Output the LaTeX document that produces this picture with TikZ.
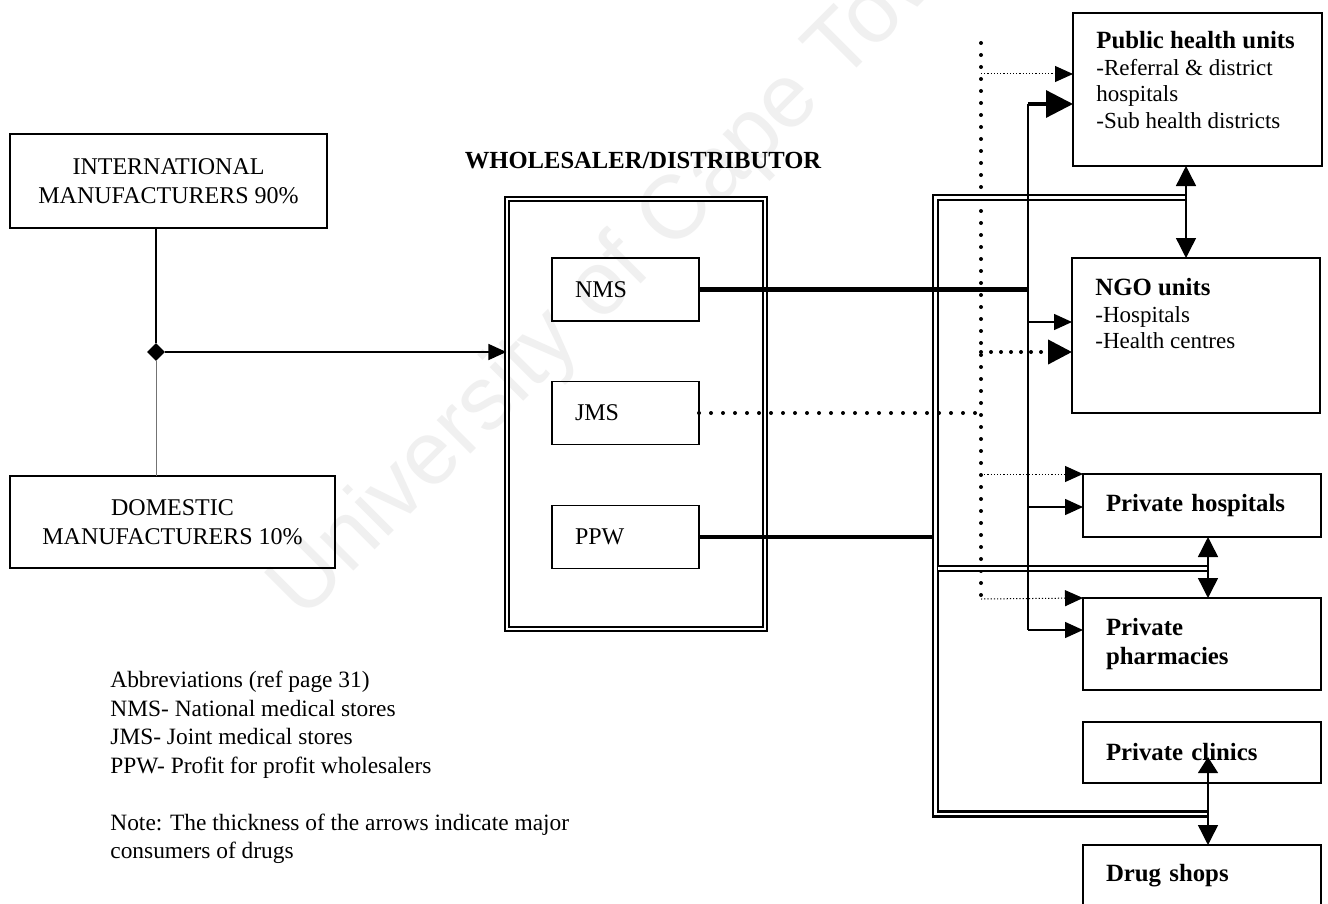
\documentclass[tikz,border=0pt]{standalone}
\usepackage{fontspec}
\setmainfont{Liberation Serif}
\newfontfamily\wmfont{Liberation Sans}
\usetikzlibrary{arrows.meta,shapes.geometric}
\begin{document}
\begin{tikzpicture}[x=0.5pt,y=-0.5pt,
  box/.style={draw, line width=0.7pt, inner sep=0pt, outer sep=0pt},
  capfont/.style={font=\fontsize{12}{14.5}\selectfont},
  smallbox/.style={box, minimum width=73.5pt, minimum height=31.5pt, text width=50.5pt, inner xsep=11.5pt, align=left, font=\fontsize{12}{14}\selectfont},
  rbox/.style={box, minimum width=119pt, text width=96pt, inner xsep=11.5pt, align=left, font=\bfseries\fontsize{12.4}{14.5}\selectfont},
  arr/.style={line width=0.7pt, -{Triangle[length=9pt,width=8pt]}},
  bigarr/.style={line width=1.6pt, -{Triangle[length=13.5pt,width=13.5pt]}},
  darr/.style={line width=0.7pt, {Triangle[length=10pt,width=10pt]}-{Triangle[length=10pt,width=10pt]}},
  bigdots/.style={line width=2pt, line cap=round, dash pattern=on 0pt off 6pt},
  finedots/.style={line width=0.5pt, dash pattern=on 0.6pt off 1pt},
  heavy/.style={line width=2.2pt},
  rail/.style={double, line width=1.2pt, double distance=1.2pt},
]
\useasboundingbox (0,0) rectangle (1328,904);
\fill[white] (0,0) rectangle (1328,904);
\begin{scope}
\clip (0,0) rectangle (1328,904);

% watermark
\node[rotate=45, font=\wmfont\fontsize{45}{45}\selectfont, text=gray!12, inner sep=0] (wm) at (630,262) {University of Cape Town};

% manufacturers
\node[box, capfont, minimum width=158.5pt, minimum height=47pt, align=center] (intl) at (168.5,181) {INTERNATIONAL\\MANUFACTURERS 90\%};
\node[box, capfont, minimum width=162.5pt, minimum height=46pt, align=center] (dom) at (172.5,522) {DOMESTIC\\MANUFACTURERS 10\%};
\node[diamond, fill=black, inner sep=0pt, minimum width=9pt, minimum height=9pt] (dia) at (156,352) {};

% wholesaler
\node[draw, double, line width=0.6pt, double distance=1.4pt, minimum width=129pt, minimum height=215pt, inner sep=0pt] (whole) at (636,414) {};
\node[font=\bfseries\fontsize{12.3}{14}\selectfont] (wtitle) at (643,161) {WHOLESALER/DISTRIBUTOR};
\node[smallbox] (nms) at (625.5,289.5) {NMS};
\node[smallbox] (jms) at (625.5,413) {JMS};
\node[smallbox] (ppw) at (625.5,537) {PPW};

% right boxes
\node[box, minimum width=124.5pt, minimum height=76.5pt] (pub) at (1197.5,89.5) {};
\node[anchor=north west, align=left, inner sep=0pt, font=\fontsize{11.5}{13.25}\selectfont] (pubt) at (1096,31) {{\bfseries\fontsize{12.4}{13.25}\selectfont Public health units}\\-Referral \& district\\hospitals\\-Sub health districts};
\node[box, minimum width=124pt, minimum height=77.5pt] (ngo) at (1196,335.5) {};
\node[anchor=north west, align=left, inner sep=0pt, font=\fontsize{11.5}{13.25}\selectfont] (ngot) at (1095,278) {{\bfseries\fontsize{12.4}{13.25}\selectfont NGO units}\\-Hospitals\\-Health centres};
\node[rbox, minimum height=31.5pt] (phosp) at (1202,505.5) {Private hospitals};
\node[rbox, minimum height=46pt] (pharm) at (1202,644) {Private\\pharmacies};
\node[rbox, minimum height=30.5pt] (clin) at (1202,752.5) {Private clinics};
\node[rbox, minimum height=30.5pt] (drug) at (1202,875.5) {Drug shops};

% abbreviations
\node[anchor=north west, align=left, inner sep=0pt, font=\fontsize{11.7}{14.25}\selectfont] (abbr) at (110,671) {Abbreviations (ref page 31)\\NMS- National medical stores\\JMS- Joint medical stores\\PPW- Profit for profit wholesalers\\[14.25pt]Note: The thickness of the arrows indicate major\\consumers of drugs};

% helper coordinates
\coordinate (xv) at (1028,0);
\coordinate (xd) at (981,0);
\coordinate (xr) at (935.5,0);
\coordinate (c1) at (1186,0);
\coordinate (c2) at (1208,0);
\coordinate (pa) at (1028,104);
\coordinate (pn) at (1028,322);
\coordinate (ph) at (1028,507);
\coordinate (pb) at (1028,630);
\coordinate (dt) at (981,43);
\coordinate (db) at (981,598);
\coordinate (dp) at (981,74);
\coordinate (dn) at (981,352);
\coordinate (dh) at (981,474);
\coordinate (dr) at (981,599);
\coordinate (clintip) at (1208,757);
\coordinate (rtop) at (1186,197.5);
\coordinate (rc1) at (935.5,197.5);
\coordinate (rc2) at (935.5,814);
\coordinate (rbot) at (1208,814);
\coordinate (rmid1) at (938,568.5);
\coordinate (rmid2) at (1208,568.5);

% manufacturers to wholesaler
\draw[line width=0.6pt] (intl.south -| dia) -- (dia);
\draw[line width=0.5pt, black!55] (dia) -- (dom.north -| dia);
\draw[arr] (dia) -- (dia -| whole.west);

% dotted network
\draw[bigdots] (dt) -- (db);
\draw[bigdots] (jms.east) -- (jms.east -| xd);
\draw[line width=2pt, line cap=round, dash pattern=on 0pt off 5pt, -{Triangle[length=12pt,width=12pt]}] (dn) -- (dn -| ngo.west);
\draw[finedots, -{Triangle[length=9pt,width=8pt]}] (dp) -- (dp -| pub.west);
\draw[finedots, -{Triangle[length=9pt,width=8pt]}] (dh) -- (phosp.north west);
\draw[finedots, -{Triangle[length=9pt,width=8pt]}] (dr) -- (pharm.north west);

% PPW and rails
\draw[heavy] (ppw.east) -- (ppw.east -| xr);
\draw[rail] (rtop) -- (rc1) -- (rc2) -- (rbot);
\draw[rail] (rmid1) -- (rmid2);

% NMS and thin vertical
\draw[line width=0.8pt] (nms.east -| xv) -- (pa);
\draw[bigarr] (pa) -- (pa -| pub.west);
\draw[line width=0.7pt] (nms.east -| xv) -- (pb);
\draw[arr] (pn) -- (pn -| ngo.west);
\draw[arr] (ph) -- (ph -| phosp.west);
\draw[arr] (pb) -- (pb -| pharm.west);
\draw[heavy] (nms.east) -- (nms.east -| xv);

% double arrows
\draw[darr] (pub.south -| c1) -- (ngo.north -| c1);
\draw[darr] (phosp.south -| c2) -- (pharm.north -| c2);
\draw[line width=0.7pt, {Triangle[length=8pt,width=10pt]}-{Triangle[length=10pt,width=10pt]}] (clintip) -- (drug.north -| c2);
\end{scope}
\end{tikzpicture}
\end{document}
